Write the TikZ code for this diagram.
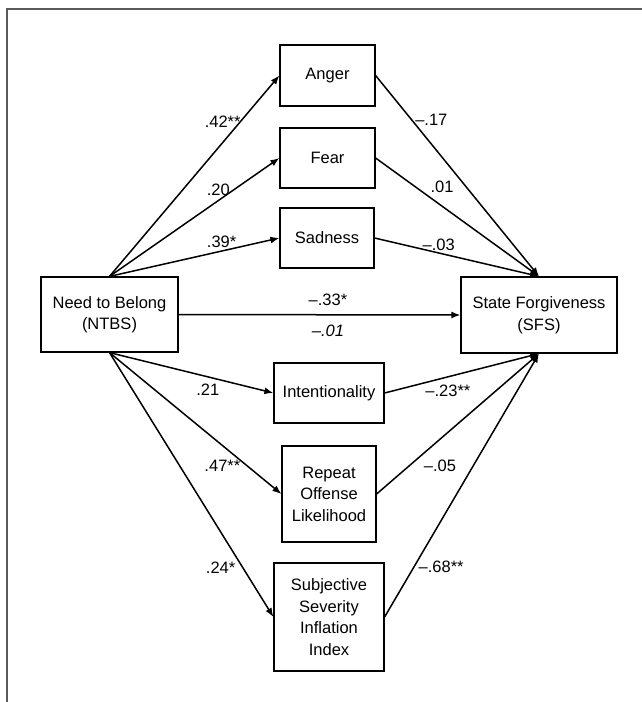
\documentclass[tikz,border=0pt]{standalone}
\usepackage{fontspec}
\setmainfont{Liberation Sans}
\usepackage{tikz}
\usetikzlibrary{arrows.meta}

\begin{document}
\begin{tikzpicture}[
  x=1pt, y=-1pt,
  font=\fontsize{16.5}{21.5}\selectfont,
  box/.style={draw, line width=1.2pt, inner sep=0pt, align=center},
  coef/.style={inner sep=2pt, font=\fontsize{16.5}{20}\selectfont},
  arrow/.style={-{Latex[length=9pt,width=7pt]}, line width=1.5pt},
  frame/.style={draw=black!65, line width=1.5pt}
]
\useasboundingbox (0,0) rectangle (642,702);
\draw[frame] (7,702) -- (7,9) -- (642,9);

\node[box, minimum width=137pt, minimum height=75pt] (ntbs) at (109.5,314.5) {Need to Belong\\(NTBS)};
\node[box, minimum width=156pt, minimum height=76pt] (sfs) at (539,315) {State Forgiveness\\(SFS)};

\node[box, minimum width=95pt, minimum height=61pt] (anger) at (327.5,75.5) {Anger};
\node[box, minimum width=95pt, minimum height=60pt] (fear) at (327.5,158) {Fear};
\node[box, minimum width=94pt, minimum height=60pt] (sad) at (327,238) {Sadness};
\node[box, minimum width=110pt, minimum height=60pt] (intent) at (329,393) {Intentionality};
\node[box, minimum width=94pt, minimum height=96pt] (repeat) at (329,494) {Repeat\\Offense\\Likelihood};
\node[box, minimum width=110pt, minimum height=108pt] (severity) at (329,617) {Subjective\\Severity\\Inflation\\Index};

% need to belong -> mediators
\draw[arrow] (ntbs.north) -- node[coef, pos=.77, left=-3pt] {.42**} (anger.west);
\draw[arrow] (ntbs.north) -- node[coef, pos=.64, above=2pt] {.20} (fear.west);
\draw[arrow] (ntbs.north) -- node[coef, pos=.66, above=1pt] {.39*} (sad.west);
\draw[arrow] (ntbs.south) -- node[coef, pos=.6, below=4pt] {.21} (intent.west);
\draw[arrow] (ntbs.south) -- node[coef, pos=.8, left=4pt] {.47**} (repeat.west);
\draw[arrow] (ntbs.south) -- node[coef, pos=.815, left=5pt] {.24*} (severity.west);

% mediators -> state forgiveness
\draw[arrow] (anger.east) -- node[coef, pos=.22, right=1pt] {--.17} (sfs.north);
\draw[arrow] (fear.east) -- node[coef, pos=.32, above right=0pt] {.01} (sfs.north);
\draw[arrow] (sad.east) -- node[coef, pos=.39, above=0pt] {--.03} (sfs.north);
\draw[arrow] (intent.east) -- node[coef, pos=.41, below=5pt] {--.23**} (sfs.south);
\draw[arrow] (repeat.east) -- node[coef, pos=.2, right=12pt] {--.05} (sfs.south);
\draw[arrow] (severity.east) -- node[coef, pos=.19, right=2pt] {--.68**} (sfs.south);

% direct path
\draw[arrow] (ntbs.east) -- node[coef, pos=.53, above=6pt] {--.33*}
  node[coef, pos=.53, below=7pt, font=\fontsize{16.5}{20}\selectfont\itshape] {--.01} (sfs.west);
\end{tikzpicture}
\end{document}
